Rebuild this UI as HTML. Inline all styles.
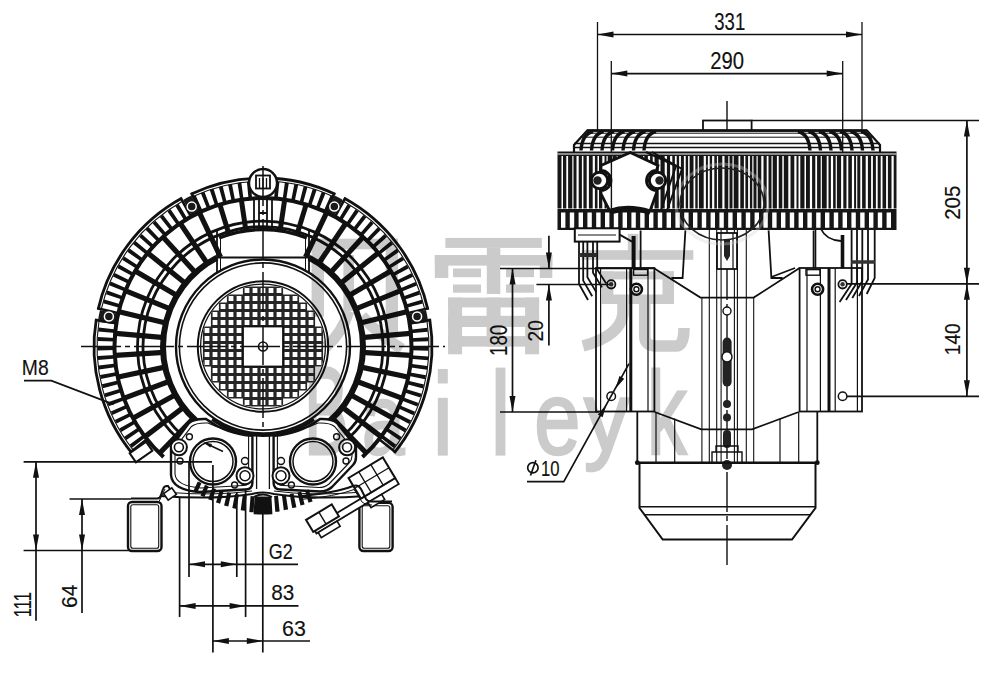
<!DOCTYPE html><html><head><meta charset="utf-8"><style>html,body{margin:0;padding:0;background:#fff;}svg{display:block;font-family:"Liberation Sans",sans-serif;}</style></head><body><svg width="1000" height="675" viewBox="0 0 1000 675"><rect width="1000" height="675" fill="#fff"/><path d="M131.7,452.9 A169,169 0 0 1 96.3,318.9" stroke="#111" stroke-width="2.8" fill="none" />
<path d="M132.9,449.6 A166,166 0 0 1 99,321.1" stroke="#111" stroke-width="1.1" fill="none" />
<line x1="148.1" y1="438.2" x2="130.1" y2="452.6" stroke="#111" stroke-width="2.6" />
<line x1="117.8" y1="323.5" x2="95.1" y2="319.9" stroke="#111" stroke-width="2.6" />
<path d="M98.1,309.6 A169,169 0 0 1 182.1,198.1" stroke="#111" stroke-width="2.8" fill="none" />
<path d="M101.4,308.6 A166,166 0 0 1 182,201.6" stroke="#111" stroke-width="1.1" fill="none" />
<line x1="119.8" y1="313.4" x2="97.4" y2="308.3" stroke="#111" stroke-width="2.6" />
<line x1="191.7" y1="217.9" x2="180.6" y2="197.8" stroke="#111" stroke-width="2.6" />
<path d="M190.7,194.3 A168.5,168.5 0 0 1 335.3,194.3" stroke="#111" stroke-width="2.8" fill="none" />
<path d="M193.6,196.3 A165.5,165.5 0 0 1 332.4,196.3" stroke="#111" stroke-width="1.1" fill="none" />
<line x1="200.9" y1="213.3" x2="191.4" y2="192.9" stroke="#111" stroke-width="2.6" />
<line x1="325.1" y1="213.3" x2="334.6" y2="192.9" stroke="#111" stroke-width="2.6" />
<path d="M343.9,198.1 A169,169 0 0 1 427.9,309.6" stroke="#111" stroke-width="2.8" fill="none" />
<path d="M344,201.6 A166,166 0 0 1 424.6,308.6" stroke="#111" stroke-width="1.1" fill="none" />
<line x1="334.3" y1="217.9" x2="345.4" y2="197.8" stroke="#111" stroke-width="2.6" />
<line x1="406.2" y1="313.4" x2="428.6" y2="308.3" stroke="#111" stroke-width="2.6" />
<path d="M429.7,318.9 A169,169 0 0 1 394.3,452.9" stroke="#111" stroke-width="2.8" fill="none" />
<path d="M427,321.1 A166,166 0 0 1 393.1,449.6" stroke="#111" stroke-width="1.1" fill="none" />
<line x1="408.2" y1="323.5" x2="430.9" y2="319.9" stroke="#111" stroke-width="2.6" />
<line x1="377.9" y1="438.2" x2="395.9" y2="452.6" stroke="#111" stroke-width="2.6" />
<path d="M132,447.7 A165.5,165.5 0 0 1 129.7,444.5 L143.8,434.2 A148,148 0 0 0 145.9,437 Z" fill="#111" stroke="none"/>
<path d="M126.4,440 A165.5,165.5 0 0 1 124.2,436.7 L138.9,427.1 A148,148 0 0 0 140.9,430.1 Z" fill="#111" stroke="none"/>
<path d="M121.3,431.9 A165.5,165.5 0 0 1 119.3,428.5 L134.5,419.9 A148,148 0 0 0 136.2,422.9 Z" fill="#111" stroke="none"/>
<path d="M116.6,423.6 A165.5,165.5 0 0 1 114.8,420.1 L130.5,412.4 A148,148 0 0 0 132.1,415.5 Z" fill="#111" stroke="none"/>
<path d="M112.4,415.1 A165.5,165.5 0 0 1 110.8,411.5 L126.9,404.6 A148,148 0 0 0 128.3,407.8 Z" fill="#111" stroke="none"/>
<path d="M108.7,406.3 A165.5,165.5 0 0 1 107.3,402.6 L123.8,396.7 A148,148 0 0 0 125,400 Z" fill="#111" stroke="none"/>
<path d="M105.5,397.3 A165.5,165.5 0 0 1 104.3,393.6 L121.1,388.6 A148,148 0 0 0 122.1,391.9 Z" fill="#111" stroke="none"/>
<path d="M102.8,388.2 A165.5,165.5 0 0 1 101.9,384.3 L118.9,380.3 A148,148 0 0 0 119.8,383.8 Z" fill="#111" stroke="none"/>
<path d="M100.7,378.9 A165.5,165.5 0 0 1 100,375 L117.2,372 A148,148 0 0 0 117.9,375.4 Z" fill="#111" stroke="none"/>
<path d="M99.1,369.5 A165.5,165.5 0 0 1 98.6,365.6 L116,363.6 A148,148 0 0 0 116.4,367 Z" fill="#111" stroke="none"/>
<path d="M98.1,360 A165.5,165.5 0 0 1 97.8,356.1 L115.2,355.1 A148,148 0 0 0 115.5,358.6 Z" fill="#111" stroke="none"/>
<path d="M97.5,350.5 A165.5,165.5 0 0 1 97.5,346.6 L115,346.6 A148,148 0 0 0 115,350.1 Z" fill="#111" stroke="none"/>
<path d="M97.6,341 A165.5,165.5 0 0 1 97.8,337 L115.2,338 A148,148 0 0 0 115.1,341.5 Z" fill="#111" stroke="none"/>
<path d="M98.2,331.4 A165.5,165.5 0 0 1 98.6,327.5 L116,329.5 A148,148 0 0 0 115.6,333 Z" fill="#111" stroke="none"/>
<path d="M99.3,322 A165.5,165.5 0 0 1 100,318.1 L117.2,321.1 A148,148 0 0 0 116.6,324.6 Z" fill="#111" stroke="none"/>
<path d="M103.2,303.3 A165.5,165.5 0 0 1 104.3,299.6 L121.1,304.5 A148,148 0 0 0 120.1,307.9 Z" fill="#111" stroke="none"/>
<path d="M106,294.2 A165.5,165.5 0 0 1 107.3,290.5 L123.7,296.4 A148,148 0 0 0 122.6,299.7 Z" fill="#111" stroke="none"/>
<path d="M109.2,285.3 A165.5,165.5 0 0 1 110.7,281.6 L126.8,288.5 A148,148 0 0 0 125.5,291.7 Z" fill="#111" stroke="none"/>
<path d="M113,276.5 A165.5,165.5 0 0 1 114.7,273 L130.4,280.7 A148,148 0 0 0 128.9,283.9 Z" fill="#111" stroke="none"/>
<path d="M117.3,268 A165.5,165.5 0 0 1 119.2,264.6 L134.4,273.2 A148,148 0 0 0 132.7,276.3 Z" fill="#111" stroke="none"/>
<path d="M122.1,259.7 A165.5,165.5 0 0 1 124.2,256.4 L138.8,265.9 A148,148 0 0 0 137,268.9 Z" fill="#111" stroke="none"/>
<path d="M127.3,251.8 A165.5,165.5 0 0 1 129.6,248.6 L143.7,258.9 A148,148 0 0 0 141.6,261.8 Z" fill="#111" stroke="none"/>
<path d="M133,244.1 A165.5,165.5 0 0 1 135.4,241.1 L148.9,252.2 A148,148 0 0 0 146.7,254.9 Z" fill="#111" stroke="none"/>
<path d="M139.1,236.8 A165.5,165.5 0 0 1 141.7,233.9 L154.5,245.8 A148,148 0 0 0 152.2,248.4 Z" fill="#111" stroke="none"/>
<path d="M145.6,229.8 A165.5,165.5 0 0 1 148.4,227.1 L160.5,239.7 A148,148 0 0 0 158,242.2 Z" fill="#111" stroke="none"/>
<path d="M152.5,223.3 A165.5,165.5 0 0 1 155.5,220.7 L166.8,234 A148,148 0 0 0 164.2,236.3 Z" fill="#111" stroke="none"/>
<path d="M159.8,217.1 A165.5,165.5 0 0 1 162.9,214.7 L173.5,228.6 A148,148 0 0 0 170.7,230.8 Z" fill="#111" stroke="none"/>
<path d="M167.4,211.4 A165.5,165.5 0 0 1 170.6,209.2 L180.4,223.7 A148,148 0 0 0 177.5,225.7 Z" fill="#111" stroke="none"/>
<path d="M175.3,206.1 A165.5,165.5 0 0 1 178.7,204.1 L187.6,219.1 A148,148 0 0 0 184.6,221 Z" fill="#111" stroke="none"/>
<path d="M192.1,197 A165.5,165.5 0 0 1 195.6,195.3 L202.8,211.3 A148,148 0 0 0 199.6,212.8 Z" fill="#111" stroke="none"/>
<path d="M200.8,193.1 A165.5,165.5 0 0 1 204.4,191.7 L210.6,208.1 A148,148 0 0 0 207.4,209.4 Z" fill="#111" stroke="none"/>
<path d="M209.7,189.8 A165.5,165.5 0 0 1 213.5,188.6 L218.7,205.3 A148,148 0 0 0 215.4,206.4 Z" fill="#111" stroke="none"/>
<path d="M218.8,187 A165.5,165.5 0 0 1 222.6,186 L226.9,203 A148,148 0 0 0 223.5,203.9 Z" fill="#111" stroke="none"/>
<path d="M228.1,184.7 A165.5,165.5 0 0 1 231.9,183.9 L235.2,201.1 A148,148 0 0 0 231.8,201.8 Z" fill="#111" stroke="none"/>
<path d="M237.5,183 A165.5,165.5 0 0 1 241.3,182.4 L243.6,199.8 A148,148 0 0 0 240.2,200.3 Z" fill="#111" stroke="none"/>
<path d="M246.9,181.8 A165.5,165.5 0 0 1 250.8,181.4 L252.1,198.9 A148,148 0 0 0 248.6,199.2 Z" fill="#111" stroke="none"/>
<path d="M256.4,181.1 A165.5,165.5 0 0 1 260.3,181 L260.6,198.5 A148,148 0 0 0 257.1,198.6 Z" fill="#111" stroke="none"/>
<path d="M265.9,181 A165.5,165.5 0 0 1 269.9,181.1 L269.1,198.6 A148,148 0 0 0 265.6,198.5 Z" fill="#111" stroke="none"/>
<path d="M275.5,181.5 A165.5,165.5 0 0 1 279.4,181.8 L277.6,199.2 A148,148 0 0 0 274.1,198.9 Z" fill="#111" stroke="none"/>
<path d="M284.9,182.5 A165.5,165.5 0 0 1 288.8,183 L286.1,200.3 A148,148 0 0 0 282.6,199.8 Z" fill="#111" stroke="none"/>
<path d="M294.4,184 A165.5,165.5 0 0 1 298.2,184.8 L294.5,201.9 A148,148 0 0 0 291,201.2 Z" fill="#111" stroke="none"/>
<path d="M303.7,186.1 A165.5,165.5 0 0 1 307.5,187.1 L302.8,203.9 A148,148 0 0 0 299.4,203 Z" fill="#111" stroke="none"/>
<path d="M312.8,188.7 A165.5,165.5 0 0 1 316.6,189.9 L310.9,206.5 A148,148 0 0 0 307.6,205.4 Z" fill="#111" stroke="none"/>
<path d="M321.8,191.8 A165.5,165.5 0 0 1 325.5,193.2 L318.9,209.5 A148,148 0 0 0 315.6,208.2 Z" fill="#111" stroke="none"/>
<path d="M330.6,195.4 A165.5,165.5 0 0 1 334.2,197.1 L326.7,212.9 A148,148 0 0 0 323.5,211.4 Z" fill="#111" stroke="none"/>
<path d="M347.5,204.2 A165.5,165.5 0 0 1 350.9,206.3 L341.6,221.1 A148,148 0 0 0 338.6,219.3 Z" fill="#111" stroke="none"/>
<path d="M355.6,209.3 A165.5,165.5 0 0 1 358.8,211.6 L348.7,225.8 A148,148 0 0 0 345.8,223.8 Z" fill="#111" stroke="none"/>
<path d="M363.3,214.9 A165.5,165.5 0 0 1 366.4,217.3 L355.5,231 A148,148 0 0 0 352.7,228.8 Z" fill="#111" stroke="none"/>
<path d="M370.7,220.9 A165.5,165.5 0 0 1 373.7,223.5 L362,236.5 A148,148 0 0 0 359.4,234.2 Z" fill="#111" stroke="none"/>
<path d="M377.8,227.3 A165.5,165.5 0 0 1 380.6,230 L368.2,242.4 A148,148 0 0 0 365.7,239.9 Z" fill="#111" stroke="none"/>
<path d="M384.5,234.1 A165.5,165.5 0 0 1 387.1,237 L374,248.6 A148,148 0 0 0 371.6,246 Z" fill="#111" stroke="none"/>
<path d="M390.7,241.3 A165.5,165.5 0 0 1 393.2,244.3 L379.4,255.1 A148,148 0 0 0 377.2,252.4 Z" fill="#111" stroke="none"/>
<path d="M396.6,248.8 A165.5,165.5 0 0 1 398.9,252 L384.5,262 A148,148 0 0 0 382.5,259.1 Z" fill="#111" stroke="none"/>
<path d="M402,256.7 A165.5,165.5 0 0 1 404.1,260 L389.2,269.1 A148,148 0 0 0 387.3,266.2 Z" fill="#111" stroke="none"/>
<path d="M406.9,264.8 A165.5,165.5 0 0 1 408.8,268.2 L393.4,276.5 A148,148 0 0 0 391.7,273.4 Z" fill="#111" stroke="none"/>
<path d="M411.4,273.2 A165.5,165.5 0 0 1 413.1,276.8 L397.2,284.1 A148,148 0 0 0 395.7,281 Z" fill="#111" stroke="none"/>
<path d="M415.4,281.9 A165.5,165.5 0 0 1 416.9,285.5 L400.6,292 A148,148 0 0 0 399.3,288.7 Z" fill="#111" stroke="none"/>
<path d="M418.8,290.8 A165.5,165.5 0 0 1 420.1,294.5 L403.5,300 A148,148 0 0 0 402.4,296.7 Z" fill="#111" stroke="none"/>
<path d="M421.8,299.8 A165.5,165.5 0 0 1 422.8,303.6 L405.9,308.1 A148,148 0 0 0 405,304.8 Z" fill="#111" stroke="none"/>
<path d="M426.1,318.4 A165.5,165.5 0 0 1 426.7,322.3 L409.4,324.8 A148,148 0 0 0 408.8,321.4 Z" fill="#111" stroke="none"/>
<path d="M427.4,327.8 A165.5,165.5 0 0 1 427.8,331.7 L410.4,333.3 A148,148 0 0 0 410.1,329.8 Z" fill="#111" stroke="none"/>
<path d="M428.2,337.3 A165.5,165.5 0 0 1 428.4,341.2 L410.9,341.8 A148,148 0 0 0 410.8,338.3 Z" fill="#111" stroke="none"/>
<path d="M428.5,346.8 A165.5,165.5 0 0 1 428.4,350.8 L411,350.3 A148,148 0 0 0 411,346.8 Z" fill="#111" stroke="none"/>
<path d="M428.2,356.4 A165.5,165.5 0 0 1 427.9,360.3 L410.5,358.8 A148,148 0 0 0 410.7,355.3 Z" fill="#111" stroke="none"/>
<path d="M427.4,365.9 A165.5,165.5 0 0 1 426.9,369.8 L409.5,367.3 A148,148 0 0 0 410,363.8 Z" fill="#111" stroke="none"/>
<path d="M426,375.3 A165.5,165.5 0 0 1 425.2,379.2 L408.1,375.7 A148,148 0 0 0 408.7,372.3 Z" fill="#111" stroke="none"/>
<path d="M424,384.6 A165.5,165.5 0 0 1 423.1,388.4 L406.2,384 A148,148 0 0 0 407,380.6 Z" fill="#111" stroke="none"/>
<path d="M421.6,393.8 A165.5,165.5 0 0 1 420.4,397.6 L403.8,392.2 A148,148 0 0 0 404.8,388.8 Z" fill="#111" stroke="none"/>
<path d="M418.6,402.9 A165.5,165.5 0 0 1 417.2,406.6 L400.9,400.2 A148,148 0 0 0 402.1,396.9 Z" fill="#111" stroke="none"/>
<path d="M415.1,411.8 A165.5,165.5 0 0 1 413.5,415.3 L397.6,408.1 A148,148 0 0 0 399,404.9 Z" fill="#111" stroke="none"/>
<path d="M411.1,420.4 A165.5,165.5 0 0 1 409.3,423.9 L393.8,415.7 A148,148 0 0 0 395.4,412.6 Z" fill="#111" stroke="none"/>
<path d="M406.6,428.8 A165.5,165.5 0 0 1 404.6,432.2 L389.6,423.1 A148,148 0 0 0 391.4,420.1 Z" fill="#111" stroke="none"/>
<path d="M401.6,436.9 A165.5,165.5 0 0 1 399.4,440.2 L385,430.3 A148,148 0 0 0 387,427.4 Z" fill="#111" stroke="none"/>
<path d="M396.2,444.8 A165.5,165.5 0 0 1 393.8,447.9 L380,437.2 A148,148 0 0 0 382.1,434.4 Z" fill="#111" stroke="none"/>
<path d="M98.2,319.2 A167,167 0 0 1 100,310.1 L118.6,314.2 A148,148 0 0 0 117,322.3 Z" fill="#1a1a1a" stroke="none"/>
<circle cx="108.9" cy="316.5" r="4.5" stroke="#fff" stroke-width="1.5" fill="none"/>
<path d="M183.1,199.9 A167,167 0 0 1 191.4,195.6 L199.5,212.8 A148,148 0 0 0 192.2,216.6 Z" fill="#1a1a1a" stroke="none"/>
<circle cx="191.7" cy="206.6" r="4.5" stroke="#fff" stroke-width="1.5" fill="none"/>
<path d="M334.6,195.6 A167,167 0 0 1 342.9,199.9 L333.8,216.6 A148,148 0 0 0 326.5,212.8 Z" fill="#1a1a1a" stroke="none"/>
<circle cx="334.3" cy="206.6" r="4.5" stroke="#fff" stroke-width="1.5" fill="none"/>
<path d="M426,310.1 A167,167 0 0 1 427.8,319.2 L409,322.3 A148,148 0 0 0 407.4,314.2 Z" fill="#1a1a1a" stroke="none"/>
<circle cx="417.1" cy="316.5" r="4.5" stroke="#fff" stroke-width="1.5" fill="none"/>
<path d="M163.6,456.9 A148.5,148.5 0 1 1 362.4,456.9" stroke="#111" stroke-width="4.0" fill="none" />
<path d="M179,439.8 A125.5,125.5 0 1 1 347,439.8" stroke="#111" stroke-width="2.8" fill="none" />
<path d="M182.7,435.7 A120,120 0 1 1 343.3,435.7" stroke="#111" stroke-width="2.8" fill="none" />
<path d="M196.1,420.8 A100,100 0 0 1 217,257.7" stroke="#111" stroke-width="6.0" fill="none" />
<path d="M309,257.7 A100,100 0 0 1 329.9,420.8" stroke="#111" stroke-width="6.0" fill="none" />
<line x1="194.1" y1="417.6" x2="160" y2="452.8" stroke="#111" stroke-width="5.2" />
<line x1="184.4" y1="406.6" x2="145.4" y2="436.4" stroke="#111" stroke-width="5.2" />
<line x1="176.3" y1="394.3" x2="133.4" y2="418" stroke="#111" stroke-width="5.2" />
<line x1="170.2" y1="381" x2="124.3" y2="398.1" stroke="#111" stroke-width="5.2" />
<line x1="166.1" y1="366.9" x2="118.2" y2="377" stroke="#111" stroke-width="5.2" />
<line x1="164.2" y1="352.4" x2="115.3" y2="355.3" stroke="#111" stroke-width="5.2" />
<line x1="164.4" y1="337.7" x2="115.6" y2="333.3" stroke="#111" stroke-width="5.2" />
<line x1="166.8" y1="323.2" x2="119.1" y2="311.7" stroke="#111" stroke-width="5.2" />
<line x1="171.3" y1="309.3" x2="125.9" y2="290.8" stroke="#111" stroke-width="5.2" />
<line x1="177.8" y1="296.1" x2="135.6" y2="271.2" stroke="#111" stroke-width="5.2" />
<line x1="186.2" y1="284.1" x2="148.1" y2="253.2" stroke="#111" stroke-width="5.2" />
<line x1="196.2" y1="273.4" x2="163.2" y2="237.2" stroke="#111" stroke-width="5.2" />
<line x1="207.8" y1="264.3" x2="180.5" y2="223.7" stroke="#111" stroke-width="5.2" />
<line x1="220.5" y1="257.1" x2="199.5" y2="212.8" stroke="#111" stroke-width="5.2" />
<line x1="229" y1="234.6" x2="220" y2="204.9" stroke="#111" stroke-width="5.0" />
<line x1="245.9" y1="230.8" x2="241.4" y2="200.1" stroke="#111" stroke-width="5.0" />
<line x1="280.1" y1="230.8" x2="284.6" y2="200.1" stroke="#111" stroke-width="5.0" />
<line x1="297" y1="234.6" x2="306" y2="204.9" stroke="#111" stroke-width="5.0" />
<line x1="305.5" y1="257.1" x2="326.5" y2="212.8" stroke="#111" stroke-width="5.2" />
<line x1="318.2" y1="264.3" x2="345.5" y2="223.7" stroke="#111" stroke-width="5.2" />
<line x1="329.8" y1="273.4" x2="362.8" y2="237.2" stroke="#111" stroke-width="5.2" />
<line x1="339.8" y1="284.1" x2="377.9" y2="253.2" stroke="#111" stroke-width="5.2" />
<line x1="348.2" y1="296.1" x2="390.4" y2="271.2" stroke="#111" stroke-width="5.2" />
<line x1="354.7" y1="309.3" x2="400.1" y2="290.8" stroke="#111" stroke-width="5.2" />
<line x1="359.2" y1="323.2" x2="406.9" y2="311.7" stroke="#111" stroke-width="5.2" />
<line x1="361.6" y1="337.7" x2="410.4" y2="333.3" stroke="#111" stroke-width="5.2" />
<line x1="361.8" y1="352.4" x2="410.7" y2="355.3" stroke="#111" stroke-width="5.2" />
<line x1="359.9" y1="366.9" x2="407.8" y2="377" stroke="#111" stroke-width="5.2" />
<line x1="355.8" y1="381" x2="401.7" y2="398.1" stroke="#111" stroke-width="5.2" />
<line x1="349.7" y1="394.3" x2="392.6" y2="418" stroke="#111" stroke-width="5.2" />
<line x1="341.6" y1="406.6" x2="380.6" y2="436.4" stroke="#111" stroke-width="5.2" />
<line x1="331.9" y1="417.6" x2="366" y2="452.8" stroke="#111" stroke-width="5.2" />
<path d="M217,272 V231 M309,272 V231 M217,257.5 H309" stroke="#111" stroke-width="1.8" fill="none" />
<path d="M220.5,271 V233 M305.5,271 V233" stroke="#111" stroke-width="1.0" fill="none" />
<path d="M219.2,238 A117,117 0 0 1 306.8,238" stroke="#111" stroke-width="3.4" fill="none" />
<circle cx="263" cy="346.5" r="87" stroke="#111" stroke-width="2.4" fill="none"/>
<circle cx="263" cy="346.5" r="83.6" stroke="#111" stroke-width="1.6" fill="none"/>
<circle cx="263" cy="346.5" r="65.2" stroke="#111" stroke-width="2.0" fill="none"/>
<circle cx="263" cy="346.5" r="62.4" stroke="#111" stroke-width="1.3" fill="none"/>
<clipPath id="gclip"><circle cx="263" cy="346.5" r="61.8"/></clipPath>
<g clip-path="url(#gclip)">
<path d="M202.9,326.4h8.2v8.2h-8.2zM202.9,334.4h8.2v8.2h-8.2zM202.9,342.4h8.2v8.2h-8.2zM202.9,350.4h8.2v8.2h-8.2zM202.9,358.4h8.2v8.2h-8.2zM210.9,310.4h8.2v8.2h-8.2zM210.9,318.4h8.2v8.2h-8.2zM210.9,326.4h8.2v8.2h-8.2zM210.9,334.4h8.2v8.2h-8.2zM210.9,342.4h8.2v8.2h-8.2zM210.9,350.4h8.2v8.2h-8.2zM210.9,358.4h8.2v8.2h-8.2zM210.9,366.4h8.2v8.2h-8.2zM210.9,374.4h8.2v8.2h-8.2zM218.9,302.4h8.2v8.2h-8.2zM218.9,310.4h8.2v8.2h-8.2zM218.9,318.4h8.2v8.2h-8.2zM218.9,326.4h8.2v8.2h-8.2zM218.9,334.4h8.2v8.2h-8.2zM218.9,342.4h8.2v8.2h-8.2zM218.9,350.4h8.2v8.2h-8.2zM218.9,358.4h8.2v8.2h-8.2zM218.9,366.4h8.2v8.2h-8.2zM218.9,374.4h8.2v8.2h-8.2zM218.9,382.4h8.2v8.2h-8.2zM226.9,294.4h8.2v8.2h-8.2zM226.9,302.4h8.2v8.2h-8.2zM226.9,310.4h8.2v8.2h-8.2zM226.9,318.4h8.2v8.2h-8.2zM226.9,326.4h8.2v8.2h-8.2zM226.9,334.4h8.2v8.2h-8.2zM226.9,342.4h8.2v8.2h-8.2zM226.9,350.4h8.2v8.2h-8.2zM226.9,358.4h8.2v8.2h-8.2zM226.9,366.4h8.2v8.2h-8.2zM226.9,374.4h8.2v8.2h-8.2zM226.9,382.4h8.2v8.2h-8.2zM226.9,390.4h8.2v8.2h-8.2zM234.9,294.4h8.2v8.2h-8.2zM234.9,302.4h8.2v8.2h-8.2zM234.9,310.4h8.2v8.2h-8.2zM234.9,318.4h8.2v8.2h-8.2zM234.9,326.4h8.2v8.2h-8.2zM234.9,334.4h8.2v8.2h-8.2zM234.9,342.4h8.2v8.2h-8.2zM234.9,350.4h8.2v8.2h-8.2zM234.9,358.4h8.2v8.2h-8.2zM234.9,366.4h8.2v8.2h-8.2zM234.9,374.4h8.2v8.2h-8.2zM234.9,382.4h8.2v8.2h-8.2zM234.9,390.4h8.2v8.2h-8.2zM242.9,286.4h8.2v8.2h-8.2zM242.9,294.4h8.2v8.2h-8.2zM242.9,302.4h8.2v8.2h-8.2zM242.9,310.4h8.2v8.2h-8.2zM242.9,318.4h8.2v8.2h-8.2zM242.9,326.4h8.2v8.2h-8.2zM242.9,334.4h8.2v8.2h-8.2zM242.9,342.4h8.2v8.2h-8.2zM242.9,350.4h8.2v8.2h-8.2zM242.9,358.4h8.2v8.2h-8.2zM242.9,366.4h8.2v8.2h-8.2zM242.9,374.4h8.2v8.2h-8.2zM242.9,382.4h8.2v8.2h-8.2zM242.9,390.4h8.2v8.2h-8.2zM242.9,398.4h8.2v8.2h-8.2zM250.9,286.4h8.2v8.2h-8.2zM250.9,294.4h8.2v8.2h-8.2zM250.9,302.4h8.2v8.2h-8.2zM250.9,310.4h8.2v8.2h-8.2zM250.9,318.4h8.2v8.2h-8.2zM250.9,326.4h8.2v8.2h-8.2zM250.9,334.4h8.2v8.2h-8.2zM250.9,342.4h8.2v8.2h-8.2zM250.9,350.4h8.2v8.2h-8.2zM250.9,358.4h8.2v8.2h-8.2zM250.9,366.4h8.2v8.2h-8.2zM250.9,374.4h8.2v8.2h-8.2zM250.9,382.4h8.2v8.2h-8.2zM250.9,390.4h8.2v8.2h-8.2zM250.9,398.4h8.2v8.2h-8.2zM258.9,286.4h8.2v8.2h-8.2zM258.9,294.4h8.2v8.2h-8.2zM258.9,302.4h8.2v8.2h-8.2zM258.9,310.4h8.2v8.2h-8.2zM258.9,318.4h8.2v8.2h-8.2zM258.9,326.4h8.2v8.2h-8.2zM258.9,334.4h8.2v8.2h-8.2zM258.9,342.4h8.2v8.2h-8.2zM258.9,350.4h8.2v8.2h-8.2zM258.9,358.4h8.2v8.2h-8.2zM258.9,366.4h8.2v8.2h-8.2zM258.9,374.4h8.2v8.2h-8.2zM258.9,382.4h8.2v8.2h-8.2zM258.9,390.4h8.2v8.2h-8.2zM258.9,398.4h8.2v8.2h-8.2zM266.9,286.4h8.2v8.2h-8.2zM266.9,294.4h8.2v8.2h-8.2zM266.9,302.4h8.2v8.2h-8.2zM266.9,310.4h8.2v8.2h-8.2zM266.9,318.4h8.2v8.2h-8.2zM266.9,326.4h8.2v8.2h-8.2zM266.9,334.4h8.2v8.2h-8.2zM266.9,342.4h8.2v8.2h-8.2zM266.9,350.4h8.2v8.2h-8.2zM266.9,358.4h8.2v8.2h-8.2zM266.9,366.4h8.2v8.2h-8.2zM266.9,374.4h8.2v8.2h-8.2zM266.9,382.4h8.2v8.2h-8.2zM266.9,390.4h8.2v8.2h-8.2zM266.9,398.4h8.2v8.2h-8.2zM274.9,286.4h8.2v8.2h-8.2zM274.9,294.4h8.2v8.2h-8.2zM274.9,302.4h8.2v8.2h-8.2zM274.9,310.4h8.2v8.2h-8.2zM274.9,318.4h8.2v8.2h-8.2zM274.9,326.4h8.2v8.2h-8.2zM274.9,334.4h8.2v8.2h-8.2zM274.9,342.4h8.2v8.2h-8.2zM274.9,350.4h8.2v8.2h-8.2zM274.9,358.4h8.2v8.2h-8.2zM274.9,366.4h8.2v8.2h-8.2zM274.9,374.4h8.2v8.2h-8.2zM274.9,382.4h8.2v8.2h-8.2zM274.9,390.4h8.2v8.2h-8.2zM274.9,398.4h8.2v8.2h-8.2zM282.9,294.4h8.2v8.2h-8.2zM282.9,302.4h8.2v8.2h-8.2zM282.9,310.4h8.2v8.2h-8.2zM282.9,318.4h8.2v8.2h-8.2zM282.9,326.4h8.2v8.2h-8.2zM282.9,334.4h8.2v8.2h-8.2zM282.9,342.4h8.2v8.2h-8.2zM282.9,350.4h8.2v8.2h-8.2zM282.9,358.4h8.2v8.2h-8.2zM282.9,366.4h8.2v8.2h-8.2zM282.9,374.4h8.2v8.2h-8.2zM282.9,382.4h8.2v8.2h-8.2zM282.9,390.4h8.2v8.2h-8.2zM290.9,294.4h8.2v8.2h-8.2zM290.9,302.4h8.2v8.2h-8.2zM290.9,310.4h8.2v8.2h-8.2zM290.9,318.4h8.2v8.2h-8.2zM290.9,326.4h8.2v8.2h-8.2zM290.9,334.4h8.2v8.2h-8.2zM290.9,342.4h8.2v8.2h-8.2zM290.9,350.4h8.2v8.2h-8.2zM290.9,358.4h8.2v8.2h-8.2zM290.9,366.4h8.2v8.2h-8.2zM290.9,374.4h8.2v8.2h-8.2zM290.9,382.4h8.2v8.2h-8.2zM290.9,390.4h8.2v8.2h-8.2zM298.9,302.4h8.2v8.2h-8.2zM298.9,310.4h8.2v8.2h-8.2zM298.9,318.4h8.2v8.2h-8.2zM298.9,326.4h8.2v8.2h-8.2zM298.9,334.4h8.2v8.2h-8.2zM298.9,342.4h8.2v8.2h-8.2zM298.9,350.4h8.2v8.2h-8.2zM298.9,358.4h8.2v8.2h-8.2zM298.9,366.4h8.2v8.2h-8.2zM298.9,374.4h8.2v8.2h-8.2zM298.9,382.4h8.2v8.2h-8.2zM306.9,310.4h8.2v8.2h-8.2zM306.9,318.4h8.2v8.2h-8.2zM306.9,326.4h8.2v8.2h-8.2zM306.9,334.4h8.2v8.2h-8.2zM306.9,342.4h8.2v8.2h-8.2zM306.9,350.4h8.2v8.2h-8.2zM306.9,358.4h8.2v8.2h-8.2zM306.9,366.4h8.2v8.2h-8.2zM306.9,374.4h8.2v8.2h-8.2zM314.9,326.4h8.2v8.2h-8.2zM314.9,334.4h8.2v8.2h-8.2zM314.9,342.4h8.2v8.2h-8.2zM314.9,350.4h8.2v8.2h-8.2zM314.9,358.4h8.2v8.2h-8.2z" fill="#262626" stroke="none"/>
<path d="M204.6,328.1h4.8v4.8h-4.8zM204.6,336.1h4.8v4.8h-4.8zM204.6,344.1h4.8v4.8h-4.8zM204.6,352.1h4.8v4.8h-4.8zM204.6,360.1h4.8v4.8h-4.8zM212.6,312.1h4.8v4.8h-4.8zM212.6,320.1h4.8v4.8h-4.8zM212.6,328.1h4.8v4.8h-4.8zM212.6,336.1h4.8v4.8h-4.8zM212.6,344.1h4.8v4.8h-4.8zM212.6,352.1h4.8v4.8h-4.8zM212.6,360.1h4.8v4.8h-4.8zM212.6,368.1h4.8v4.8h-4.8zM212.6,376.1h4.8v4.8h-4.8zM220.6,304.1h4.8v4.8h-4.8zM220.6,312.1h4.8v4.8h-4.8zM220.6,320.1h4.8v4.8h-4.8zM220.6,328.1h4.8v4.8h-4.8zM220.6,336.1h4.8v4.8h-4.8zM220.6,344.1h4.8v4.8h-4.8zM220.6,352.1h4.8v4.8h-4.8zM220.6,360.1h4.8v4.8h-4.8zM220.6,368.1h4.8v4.8h-4.8zM220.6,376.1h4.8v4.8h-4.8zM220.6,384.1h4.8v4.8h-4.8zM228.6,296.1h4.8v4.8h-4.8zM228.6,304.1h4.8v4.8h-4.8zM228.6,312.1h4.8v4.8h-4.8zM228.6,320.1h4.8v4.8h-4.8zM228.6,328.1h4.8v4.8h-4.8zM228.6,336.1h4.8v4.8h-4.8zM228.6,344.1h4.8v4.8h-4.8zM228.6,352.1h4.8v4.8h-4.8zM228.6,360.1h4.8v4.8h-4.8zM228.6,368.1h4.8v4.8h-4.8zM228.6,376.1h4.8v4.8h-4.8zM228.6,384.1h4.8v4.8h-4.8zM228.6,392.1h4.8v4.8h-4.8zM236.6,296.1h4.8v4.8h-4.8zM236.6,304.1h4.8v4.8h-4.8zM236.6,312.1h4.8v4.8h-4.8zM236.6,320.1h4.8v4.8h-4.8zM236.6,328.1h4.8v4.8h-4.8zM236.6,336.1h4.8v4.8h-4.8zM236.6,344.1h4.8v4.8h-4.8zM236.6,352.1h4.8v4.8h-4.8zM236.6,360.1h4.8v4.8h-4.8zM236.6,368.1h4.8v4.8h-4.8zM236.6,376.1h4.8v4.8h-4.8zM236.6,384.1h4.8v4.8h-4.8zM236.6,392.1h4.8v4.8h-4.8zM244.6,288.1h4.8v4.8h-4.8zM244.6,296.1h4.8v4.8h-4.8zM244.6,304.1h4.8v4.8h-4.8zM244.6,312.1h4.8v4.8h-4.8zM244.6,320.1h4.8v4.8h-4.8zM244.6,328.1h4.8v4.8h-4.8zM244.6,336.1h4.8v4.8h-4.8zM244.6,344.1h4.8v4.8h-4.8zM244.6,352.1h4.8v4.8h-4.8zM244.6,360.1h4.8v4.8h-4.8zM244.6,368.1h4.8v4.8h-4.8zM244.6,376.1h4.8v4.8h-4.8zM244.6,384.1h4.8v4.8h-4.8zM244.6,392.1h4.8v4.8h-4.8zM244.6,400.1h4.8v4.8h-4.8zM252.6,288.1h4.8v4.8h-4.8zM252.6,296.1h4.8v4.8h-4.8zM252.6,304.1h4.8v4.8h-4.8zM252.6,312.1h4.8v4.8h-4.8zM252.6,320.1h4.8v4.8h-4.8zM252.6,328.1h4.8v4.8h-4.8zM252.6,336.1h4.8v4.8h-4.8zM252.6,344.1h4.8v4.8h-4.8zM252.6,352.1h4.8v4.8h-4.8zM252.6,360.1h4.8v4.8h-4.8zM252.6,368.1h4.8v4.8h-4.8zM252.6,376.1h4.8v4.8h-4.8zM252.6,384.1h4.8v4.8h-4.8zM252.6,392.1h4.8v4.8h-4.8zM252.6,400.1h4.8v4.8h-4.8zM260.6,288.1h4.8v4.8h-4.8zM260.6,296.1h4.8v4.8h-4.8zM260.6,304.1h4.8v4.8h-4.8zM260.6,312.1h4.8v4.8h-4.8zM260.6,320.1h4.8v4.8h-4.8zM260.6,328.1h4.8v4.8h-4.8zM260.6,336.1h4.8v4.8h-4.8zM260.6,344.1h4.8v4.8h-4.8zM260.6,352.1h4.8v4.8h-4.8zM260.6,360.1h4.8v4.8h-4.8zM260.6,368.1h4.8v4.8h-4.8zM260.6,376.1h4.8v4.8h-4.8zM260.6,384.1h4.8v4.8h-4.8zM260.6,392.1h4.8v4.8h-4.8zM260.6,400.1h4.8v4.8h-4.8zM268.6,288.1h4.8v4.8h-4.8zM268.6,296.1h4.8v4.8h-4.8zM268.6,304.1h4.8v4.8h-4.8zM268.6,312.1h4.8v4.8h-4.8zM268.6,320.1h4.8v4.8h-4.8zM268.6,328.1h4.8v4.8h-4.8zM268.6,336.1h4.8v4.8h-4.8zM268.6,344.1h4.8v4.8h-4.8zM268.6,352.1h4.8v4.8h-4.8zM268.6,360.1h4.8v4.8h-4.8zM268.6,368.1h4.8v4.8h-4.8zM268.6,376.1h4.8v4.8h-4.8zM268.6,384.1h4.8v4.8h-4.8zM268.6,392.1h4.8v4.8h-4.8zM268.6,400.1h4.8v4.8h-4.8zM276.6,288.1h4.8v4.8h-4.8zM276.6,296.1h4.8v4.8h-4.8zM276.6,304.1h4.8v4.8h-4.8zM276.6,312.1h4.8v4.8h-4.8zM276.6,320.1h4.8v4.8h-4.8zM276.6,328.1h4.8v4.8h-4.8zM276.6,336.1h4.8v4.8h-4.8zM276.6,344.1h4.8v4.8h-4.8zM276.6,352.1h4.8v4.8h-4.8zM276.6,360.1h4.8v4.8h-4.8zM276.6,368.1h4.8v4.8h-4.8zM276.6,376.1h4.8v4.8h-4.8zM276.6,384.1h4.8v4.8h-4.8zM276.6,392.1h4.8v4.8h-4.8zM276.6,400.1h4.8v4.8h-4.8zM284.6,296.1h4.8v4.8h-4.8zM284.6,304.1h4.8v4.8h-4.8zM284.6,312.1h4.8v4.8h-4.8zM284.6,320.1h4.8v4.8h-4.8zM284.6,328.1h4.8v4.8h-4.8zM284.6,336.1h4.8v4.8h-4.8zM284.6,344.1h4.8v4.8h-4.8zM284.6,352.1h4.8v4.8h-4.8zM284.6,360.1h4.8v4.8h-4.8zM284.6,368.1h4.8v4.8h-4.8zM284.6,376.1h4.8v4.8h-4.8zM284.6,384.1h4.8v4.8h-4.8zM284.6,392.1h4.8v4.8h-4.8zM292.6,296.1h4.8v4.8h-4.8zM292.6,304.1h4.8v4.8h-4.8zM292.6,312.1h4.8v4.8h-4.8zM292.6,320.1h4.8v4.8h-4.8zM292.6,328.1h4.8v4.8h-4.8zM292.6,336.1h4.8v4.8h-4.8zM292.6,344.1h4.8v4.8h-4.8zM292.6,352.1h4.8v4.8h-4.8zM292.6,360.1h4.8v4.8h-4.8zM292.6,368.1h4.8v4.8h-4.8zM292.6,376.1h4.8v4.8h-4.8zM292.6,384.1h4.8v4.8h-4.8zM292.6,392.1h4.8v4.8h-4.8zM300.6,304.1h4.8v4.8h-4.8zM300.6,312.1h4.8v4.8h-4.8zM300.6,320.1h4.8v4.8h-4.8zM300.6,328.1h4.8v4.8h-4.8zM300.6,336.1h4.8v4.8h-4.8zM300.6,344.1h4.8v4.8h-4.8zM300.6,352.1h4.8v4.8h-4.8zM300.6,360.1h4.8v4.8h-4.8zM300.6,368.1h4.8v4.8h-4.8zM300.6,376.1h4.8v4.8h-4.8zM300.6,384.1h4.8v4.8h-4.8zM308.6,312.1h4.8v4.8h-4.8zM308.6,320.1h4.8v4.8h-4.8zM308.6,328.1h4.8v4.8h-4.8zM308.6,336.1h4.8v4.8h-4.8zM308.6,344.1h4.8v4.8h-4.8zM308.6,352.1h4.8v4.8h-4.8zM308.6,360.1h4.8v4.8h-4.8zM308.6,368.1h4.8v4.8h-4.8zM308.6,376.1h4.8v4.8h-4.8zM316.6,328.1h4.8v4.8h-4.8zM316.6,336.1h4.8v4.8h-4.8zM316.6,344.1h4.8v4.8h-4.8zM316.6,352.1h4.8v4.8h-4.8zM316.6,360.1h4.8v4.8h-4.8z" fill="#fff" stroke="none"/>
</g>
<rect x="243" y="326.5" width="40" height="40" rx="0" stroke="#111" stroke-width="1.8" fill="#fff" />
<circle cx="263" cy="346.5" r="4.5" stroke="#111" stroke-width="1.6" fill="none"/>
<circle cx="263" cy="183" r="14" stroke="#111" stroke-width="2.4" fill="#fff"/>
<rect x="256" y="175.5" width="14" height="13" rx="0" stroke="#111" stroke-width="1.8" fill="#fff" />
<path d="M259.5,178 V188 M263,178 V188 M266.5,178 V188" stroke="#111" stroke-width="1.3" fill="none" />
<path d="M254,198 V229 M259,198 V229 M267,198 V229 M272,198 V229 M259,213 H267" stroke="#111" stroke-width="1.8" fill="none" />
<line x1="81" y1="346.5" x2="445" y2="346.5" stroke="#111" stroke-width="1.5" stroke-dasharray="40,4,5,4"/>
<line x1="263" y1="166" x2="263" y2="430" stroke="#111" stroke-width="1.5" stroke-dasharray="40,4,5,4"/>
<path d="M206,419 A90,90 0 0 0 252.4,435.9 V483 Q252.4,489.5 245,489.5 L200,492 Q172,490 171,475 V447 L189,423 Q194,418.5 206,419 Z M320,419 A90,90 0 0 1 273.6,435.9 V483 Q273.6,489.5 281,489.5 L320,491.5 Q327,491.5 332,487 L353,465 Q356,462 356,457 V447 L337,423 Q332,418.5 320,419 Z" stroke="#111" stroke-width="2.4" fill="#fff" />
<path d="M208,423 A86,86 0 0 0 248.6,432 V481 Q248.6,485.5 243,485.5 L201,488 Q176,486 175,474 V448 L191.5,426.5 Q196,422.5 208,423 M318,423 A86,86 0 0 1 277.4,432 V481 Q277.4,485.5 283,485.5 L319,487.5 Q325,487.5 329,484 L349,463 Q352,460 352,456 V448 L334.5,426.5 Q330,422.5 318,423" stroke="#111" stroke-width="1.1" fill="none" />
<path d="M314,419.4 A89,89 0 0 1 212,419.4" stroke="#111" stroke-width="3.0" fill="none" />
<path d="M256.6,434 V489 M269.4,434 V489" stroke="#111" stroke-width="1.3" fill="none" />
<circle cx="213" cy="461.5" r="23" stroke="#111" stroke-width="2.4" fill="#fff"/>
<circle cx="213" cy="461.5" r="20" stroke="#111" stroke-width="1.5" fill="none"/>
<circle cx="313" cy="461.5" r="23" stroke="#111" stroke-width="2.4" fill="#fff"/>
<circle cx="313" cy="461.5" r="20" stroke="#111" stroke-width="1.5" fill="none"/>
<path d="M223,451.5 L205,443" stroke="#111" stroke-width="1.4" fill="none" />
<path d="M203,442 L212,444 L210.3,447.6 Z" fill="#111" stroke="none"/>
<circle cx="178.9" cy="447.3" r="8" stroke="#111" stroke-width="2.0" fill="#fff"/>
<circle cx="178.9" cy="447.3" r="4.5" stroke="#111" stroke-width="1.6" fill="none"/>
<circle cx="189.4" cy="436.8" r="3" stroke="#111" stroke-width="1.4" fill="none"/>
<circle cx="180" cy="461" r="3" stroke="#111" stroke-width="1.4" fill="none"/>
<circle cx="245" cy="475.7" r="8.5" stroke="#111" stroke-width="2.0" fill="#fff"/>
<circle cx="245" cy="475.7" r="5" stroke="#111" stroke-width="1.5" fill="none"/>
<circle cx="245" cy="461" r="3.5" stroke="#111" stroke-width="1.4" fill="none"/>
<circle cx="234.6" cy="485" r="3" stroke="#111" stroke-width="1.4" fill="none"/>
<circle cx="347.1" cy="447.3" r="8" stroke="#111" stroke-width="2.0" fill="#fff"/>
<circle cx="347.1" cy="447.3" r="4.5" stroke="#111" stroke-width="1.6" fill="none"/>
<circle cx="336.6" cy="436.8" r="3" stroke="#111" stroke-width="1.4" fill="none"/>
<circle cx="346" cy="461" r="3" stroke="#111" stroke-width="1.4" fill="none"/>
<circle cx="281" cy="475.7" r="8.5" stroke="#111" stroke-width="2.0" fill="#fff"/>
<circle cx="281" cy="475.7" r="5" stroke="#111" stroke-width="1.5" fill="none"/>
<circle cx="281" cy="461" r="3.5" stroke="#111" stroke-width="1.4" fill="none"/>
<circle cx="291.4" cy="485" r="3" stroke="#111" stroke-width="1.4" fill="none"/>
<path d="M160,496 Q215,500 252,494 Q263,491 274,494 Q311,500 366,496" stroke="#111" stroke-width="2.0" fill="none" />
<path d="M170,492.5 Q215,496 252,491 M274,491 Q311,496 356,492.5" stroke="#111" stroke-width="1.0" fill="none" />
<path d="M312.6,501.5 A162.75,162.75 0 0 1 308.5,502.7 L305,490.5 A150,150 0 0 0 308.7,489.4 Z" fill="#111" stroke="none"/>
<path d="M304.6,504.6 A163.5,163.5 0 0 1 300.5,505.6 L297.4,492.5 A150,150 0 0 0 301.2,491.6 Z" fill="#111" stroke="none"/>
<path d="M296.4,507.3 A164.25,164.25 0 0 1 292.2,508.1 L289.7,494.1 A150,150 0 0 0 293.5,493.4 Z" fill="#111" stroke="none"/>
<path d="M288.1,509.6 A165.0,165.0 0 0 1 283.8,510.2 L281.9,495.3 A150,150 0 0 0 285.8,494.8 Z" fill="#111" stroke="none"/>
<path d="M279.6,511.4 A165.75,165.75 0 0 1 275.3,511.8 L274.1,496.1 A150,150 0 0 0 278,495.7 Z" fill="#111" stroke="none"/>
<path d="M253.6,512.2 A166.0,166.0 0 0 1 249.3,511.9 L250.6,496 A150,150 0 0 0 254.5,496.3 Z" fill="#111" stroke="none"/>
<path d="M245,510.8 A165.25,165.25 0 0 1 240.7,510.2 L242.8,495.1 A150,150 0 0 0 246.7,495.6 Z" fill="#111" stroke="none"/>
<path d="M236.6,508.9 A164.5,164.5 0 0 1 232.3,508.1 L235,493.9 A150,150 0 0 0 238.9,494.5 Z" fill="#111" stroke="none"/>
<path d="M228.3,506.5 A163.75,163.75 0 0 1 224.1,505.6 L227.3,492.2 A150,150 0 0 0 231.2,493.1 Z" fill="#111" stroke="none"/>
<path d="M220.1,503.8 A163.0,163.0 0 0 1 216,502.6 L219.8,490.1 A150,150 0 0 0 223.5,491.2 Z" fill="#111" stroke="none"/>
<path d="M212.2,500.6 A162.25,162.25 0 0 1 208.2,499.2 L212.3,487.7 A150,150 0 0 0 216,489 Z" fill="#111" stroke="none"/>
<path d="M204.5,497 A161.5,161.5 0 0 1 200.5,495.4 L205,484.8 A150,150 0 0 0 208.6,486.3 Z" fill="#111" stroke="none"/>
<path d="M197,493.1 A160.75,160.75 0 0 1 193.2,491.3 L197.8,481.6 A150,150 0 0 0 201.4,483.3 Z" fill="#111" stroke="none"/>
<path d="M272.4,514.2 A168,168 0 0 1 253.6,514.2 L254.6,496.3 A150,150 0 0 0 271.4,496.3 Z" fill="#111" stroke="none"/>
<path d="M254,497 Q263,492 272,497" stroke="#111" stroke-width="2.0" fill="none" />
<rect x="128" y="502" width="33.5" height="49" rx="4" stroke="#111" stroke-width="2.4" fill="#fff" />
<rect x="130.8" y="504.8" width="27.9" height="43.4" rx="2" stroke="#111" stroke-width="1.1" fill="none" />
<rect x="359.4" y="502.9" width="33.2" height="48.1" rx="4" stroke="#111" stroke-width="2.4" fill="#fff" />
<rect x="362.2" y="505.7" width="27.6" height="42.5" rx="2" stroke="#111" stroke-width="1.1" fill="none" />
<path d="M131,498.5 H157 Q160,498.5 161,495 L163,489 Q164,485.5 168,486 L175,497" stroke="#111" stroke-width="2.0" fill="none" />
<path d="M131,501.5 H159 L165,489" stroke="#111" stroke-width="1.0" fill="none" />
<g transform="translate(353,501) rotate(-31)">
<rect x="-48" y="2" width="96" height="7" rx="0" stroke="#111" stroke-width="1.8" fill="#fff" />
<rect x="-50" y="-8" width="30" height="14" rx="0" stroke="#111" stroke-width="2.0" fill="#fff" />
<path d="M-35,-8 V6" stroke="#111" stroke-width="1.4" fill="none" />
<rect x="-46" y="9" width="22" height="6" rx="0" stroke="#111" stroke-width="1.6" fill="#fff" />
<rect x="8" y="-22" width="40" height="24" rx="0" stroke="#111" stroke-width="2.0" fill="#fff" />
<path d="M20,-22 V2 M34,-22 V2 M8,-10 H48" stroke="#111" stroke-width="1.3" fill="none" />
<rect x="12" y="9" width="16" height="6" rx="0" stroke="#111" stroke-width="1.6" fill="#fff" />
</g>
<path d="M300,496 Q335,493 353,486 Q358,484 361,489 L366,499 Q368,502 372,501.5 H392" stroke="#111" stroke-width="2.0" fill="none" />
<path d="M300,499.5 Q336,496.5 354,489.5 L362,502 Q365,505.5 372,505" stroke="#111" stroke-width="1.0" fill="none" />
<g transform="translate(141,452) rotate(-35)">
<rect x="-10" y="-5.5" width="20" height="11" rx="0" stroke="#111" stroke-width="2.0" fill="#fff" />
</g>
<g transform="translate(170,494) rotate(-35)">
<rect x="-5" y="-4" width="10" height="8" rx="0" stroke="#111" stroke-width="1.6" fill="#fff" />
</g>
<rect x="703" y="120.5" width="48.6" height="10.5" rx="0" stroke="#111" stroke-width="1.8" fill="#fff" />
<line x1="727" y1="101" x2="727" y2="565" stroke="#111" stroke-width="1.4" stroke-dasharray="40,4,5,4"/>
<path d="M574,152 V145 L587.2,130.6 H867 L880,145 V152" stroke="#111" stroke-width="2.2" fill="#fff" />
<line x1="574" y1="143.5" x2="880" y2="143.5" stroke="#111" stroke-width="1.4" />
<line x1="585" y1="133.2" x2="869" y2="133.2" stroke="#111" stroke-width="1.0" />
<line x1="580" y1="137.2" x2="874" y2="137.2" stroke="#111" stroke-width="1.0" />
<line x1="574" y1="147.5" x2="880" y2="147.5" stroke="#111" stroke-width="1.6" />
<path d="M581,150.5 Q582,134 593,131.5" stroke="#111" stroke-width="3.4" fill="none" />
<path d="M873,150.5 Q872,134 861,131.5" stroke="#111" stroke-width="3.4" fill="none" />
<path d="M591.5,150.5 Q592.5,134 603.5,131.5" stroke="#111" stroke-width="3.4" fill="none" />
<path d="M862.5,150.5 Q861.5,134 850.5,131.5" stroke="#111" stroke-width="3.4" fill="none" />
<path d="M602,150.5 Q603,134 614,131.5" stroke="#111" stroke-width="3.4" fill="none" />
<path d="M852,150.5 Q851,134 840,131.5" stroke="#111" stroke-width="3.4" fill="none" />
<path d="M612.5,150.5 Q613.5,134 624.5,131.5" stroke="#111" stroke-width="3.4" fill="none" />
<path d="M841.5,150.5 Q840.5,134 829.5,131.5" stroke="#111" stroke-width="3.4" fill="none" />
<path d="M623,150.5 Q624,134 635,131.5" stroke="#111" stroke-width="3.4" fill="none" />
<path d="M831,150.5 Q830,134 819,131.5" stroke="#111" stroke-width="3.4" fill="none" />
<path d="M633.5,150.5 Q634.5,134 645.5,131.5" stroke="#111" stroke-width="3.4" fill="none" />
<path d="M820.5,150.5 Q819.5,134 808.5,131.5" stroke="#111" stroke-width="3.4" fill="none" />
<path d="M644,150.5 Q645,134 656,131.5" stroke="#111" stroke-width="3.4" fill="none" />
<path d="M810,150.5 Q809,134 798,131.5" stroke="#111" stroke-width="3.4" fill="none" />
<line x1="587" y1="130.5" x2="867" y2="130.5" stroke="#111" stroke-width="2.6" />
<rect x="557.5" y="151.5" width="339" height="57" rx="0" stroke="#111" stroke-width="0" fill="#161616" />
<path d="M561.5,156h1.5v53h-1.5zM566.3,156h1.8v53h-1.8zM572.3,156h1.2v53h-1.2zM576.5,156h2.2v53h-2.2zM581.9,156h1.5v53h-1.5zM586.7,156h2.2v53h-2.2zM592.7,156h2.2v53h-2.2zM597.5,156h1.5v53h-1.5zM602.3,156h2.2v53h-2.2zM606.5,156h1.2v53h-1.2zM611.3,156h1.2v53h-1.2zM616.7,156h1.2v53h-1.2zM622.1,156h2.2v53h-2.2zM628.1,156h2.2v53h-2.2zM634.1,156h2.2v53h-2.2zM638.9,156h1.8v53h-1.8zM643.1,156h1.2v53h-1.2zM647.9,156h2.2v53h-2.2zM652.7,156h1.8v53h-1.8zM658.7,156h1.8v53h-1.8zM664.7,156h2.2v53h-2.2zM670.1,156h2.2v53h-2.2zM674.9,156h1.8v53h-1.8zM679.1,156h1.8v53h-1.8zM683.9,156h1.8v53h-1.8zM688.1,156h1.5v53h-1.5zM693.5,156h1.8v53h-1.8zM697.7,156h1.2v53h-1.2zM703.7,156h2.2v53h-2.2zM707.9,156h1.8v53h-1.8zM712.1,156h2.2v53h-2.2zM716.9,156h1.2v53h-1.2zM722.3,156h2.2v53h-2.2zM728.3,156h1.2v53h-1.2zM732.5,156h1.2v53h-1.2zM738.5,156h1.8v53h-1.8zM743.9,156h1.5v53h-1.5zM748.1,156h1.8v53h-1.8zM752.3,156h1.2v53h-1.2zM756.5,156h1.2v53h-1.2zM761.3,156h2.2v53h-2.2zM766.7,156h1.8v53h-1.8zM771.5,156h1.2v53h-1.2zM776.9,156h1.8v53h-1.8zM782.3,156h1.5v53h-1.5zM788.3,156h2.2v53h-2.2zM794.3,156h2.2v53h-2.2zM798.5,156h1.8v53h-1.8zM804.5,156h1.5v53h-1.5zM809.9,156h2.2v53h-2.2zM815.3,156h1.8v53h-1.8zM820.7,156h1.2v53h-1.2zM826.7,156h1.8v53h-1.8zM830.9,156h2.2v53h-2.2zM835.7,156h1.2v53h-1.2zM841.1,156h2.2v53h-2.2zM846.5,156h1.8v53h-1.8zM851.9,156h2.2v53h-2.2zM856.1,156h1.2v53h-1.2zM860.3,156h1.8v53h-1.8zM865.7,156h2.2v53h-2.2zM871.1,156h1.8v53h-1.8zM875.9,156h1.8v53h-1.8zM880.7,156h1.8v53h-1.8zM886.1,156h1.8v53h-1.8zM891.5,156h2.2v53h-2.2z" fill="#fff" stroke="none"/>
<line x1="557.5" y1="154" x2="896.5" y2="154" stroke="#fff" stroke-width="1.0" />
<path d="M630.3,152.5 L601,165.5 V170.5 A10,10 0 0 1 601,190.5 V194 L609.5,210.5 Q628,205 650,211 L656.5,193 V190.5 A10,10 0 0 1 656.5,170.5 L658,165.5 Z" stroke="#111" stroke-width="2.8" fill="#fff" />
<path d="M646,152 L676,166 L660,213 M652,152 L682,169 L666,213" stroke="#111" stroke-width="2.0" fill="none" />
<path d="M611.4,156 V209" stroke="#111" stroke-width="1.4" fill="none" />
<circle cx="599.5" cy="180.5" r="8.2" stroke="#111" stroke-width="3.0" fill="#fff"/>
<circle cx="657.5" cy="180.5" r="8.2" stroke="#111" stroke-width="3.0" fill="#fff"/>
<circle cx="597.5" cy="180.5" r="4.2" stroke="#111" stroke-width="0" fill="#222"/>
<circle cx="659.5" cy="180.5" r="4.2" stroke="#111" stroke-width="0" fill="#222"/>
<path d="M609.5,210.5 Q628,204 650,211" stroke="#111" stroke-width="3.4" fill="none" />
<rect x="557.5" y="209" width="339" height="21" rx="0" stroke="#111" stroke-width="0" fill="#161616" />
<path d="M561,212.5h4.4v15.3h-4.4zM569.8,212.5h4.4v15.3h-4.4zM578.6,212.5h4.4v15.3h-4.4zM587.4,212.5h4.4v15.3h-4.4zM596.2,212.5h4.4v15.3h-4.4zM605,212.5h4.4v15.3h-4.4zM613.8,212.5h4.4v15.3h-4.4zM622.6,212.5h4.4v15.3h-4.4zM631.4,212.5h4.4v15.3h-4.4zM640.2,212.5h4.4v15.3h-4.4zM649,212.5h4.4v15.3h-4.4zM657.8,212.5h4.4v15.3h-4.4zM666.6,212.5h4.4v15.3h-4.4zM675.4,212.5h4.4v15.3h-4.4zM684.2,212.5h4.4v15.3h-4.4zM693,212.5h4.4v15.3h-4.4zM701.8,212.5h4.4v15.3h-4.4zM710.6,212.5h4.4v15.3h-4.4zM719.4,212.5h4.4v15.3h-4.4zM728.2,212.5h4.4v15.3h-4.4zM737,212.5h4.4v15.3h-4.4zM745.8,212.5h4.4v15.3h-4.4zM754.6,212.5h4.4v15.3h-4.4zM763.4,212.5h4.4v15.3h-4.4zM772.2,212.5h4.4v15.3h-4.4zM781,212.5h4.4v15.3h-4.4zM789.8,212.5h4.4v15.3h-4.4zM798.6,212.5h4.4v15.3h-4.4zM807.4,212.5h4.4v15.3h-4.4zM816.2,212.5h4.4v15.3h-4.4zM825,212.5h4.4v15.3h-4.4zM833.8,212.5h4.4v15.3h-4.4zM842.6,212.5h4.4v15.3h-4.4zM851.4,212.5h4.4v15.3h-4.4zM860.2,212.5h4.4v15.3h-4.4zM869,212.5h4.4v15.3h-4.4zM877.8,212.5h4.4v15.3h-4.4zM886.6,212.5h4.4v15.3h-4.4z" fill="#fff" stroke="none"/>
<path d="M610,213 Q630,207 650,213" stroke="#111" stroke-width="3.0" fill="none" />
<rect x="574.8" y="228.3" width="44.8" height="13.3" rx="0" stroke="#111" stroke-width="2.0" fill="#fff" />
<line x1="578" y1="235" x2="616" y2="235" stroke="#111" stroke-width="1.0" />
<path d="M579,241.6 V284 L588,300 M583.2,241.6 V280.6 L592.2,296.2 M587.4,241.6 V277.3 L596.4,292.4 M593,241.6 V272.8 L602,287.4 M597.2,241.6 V269.4 L606.2,283.6 " stroke="#111" stroke-width="1.8" fill="none" />
<path d="M579,255 H597.2" stroke="#333" stroke-width="4.0" fill="none" />
<line x1="633.6" y1="236" x2="633.6" y2="268.2" stroke="#111" stroke-width="4.0" />
<path d="M619.6,234.6 L632,241.6 M640.6,230.4 V268.2 M685.4,230.4 L682.6,278 H671.4" stroke="#111" stroke-width="1.8" fill="none" />
<rect x="633.6" y="269.6" width="14" height="5.6" rx="0" stroke="#111" stroke-width="1.4" fill="#fff" />
<path d="M851.6,230 V284 L839.6,302 M857,230 V282.5 L846,300 M862.3,230 V281 L852.3,298 M868,230 V279.5 L859,296 M874.7,230 V278 L866.7,294 " stroke="#111" stroke-width="1.8" fill="none" />
<path d="M851,262 H875" stroke="#333" stroke-width="3.5" fill="none" />
<line x1="842.5" y1="235" x2="842.5" y2="268.4" stroke="#111" stroke-width="3.6" />
<line x1="815.5" y1="230" x2="815.5" y2="268.4" stroke="#111" stroke-width="1.6" />
<path d="M821,229 Q826,240 841,241 M813.6,230.4 V268.2 M768.6,230.4 L771.4,278 H782.6 M771.4,277 L795,268" stroke="#111" stroke-width="1.8" fill="none" />
<rect x="806" y="269.6" width="14" height="5.6" rx="0" stroke="#111" stroke-width="1.4" fill="#fff" />
<rect x="596" y="268" width="58.4" height="143.5" rx="0" stroke="#111" stroke-width="1.8" fill="none" />
<rect x="799.6" y="268" width="62.4" height="143.5" rx="0" stroke="#111" stroke-width="1.8" fill="none" />
<path d="M600.6,268 V411.5 M626.6,268 V411.5 M648,268 V411.5" stroke="#111" stroke-width="1.2" fill="none" />
<path d="M630.8,268 V411.5" stroke="#111" stroke-width="3.0" fill="none" />
<path d="M807,268 V411.5 M820.4,268 V411.5 M835.2,268 V411.5 M857.4,268 V411.5" stroke="#111" stroke-width="1.2" fill="none" />
<path d="M829,268 V411.5" stroke="#111" stroke-width="3.0" fill="none" />
<path d="M654.4,268.5 L700.4,297.6 H753.7 L799.6,268" stroke="#111" stroke-width="1.8" fill="none" />
<path d="M654.7,412 L701.3,429.3 H752 L798.7,412" stroke="#111" stroke-width="1.8" fill="none" />
<line x1="701.9" y1="297.6" x2="701.9" y2="462.7" stroke="#111" stroke-width="1.1" />
<line x1="709.3" y1="230" x2="709.3" y2="462.7" stroke="#111" stroke-width="1.1" />
<line x1="716.7" y1="230" x2="716.7" y2="462.7" stroke="#111" stroke-width="1.1" />
<line x1="721.1" y1="230" x2="721.1" y2="462.7" stroke="#111" stroke-width="1.1" />
<line x1="734.4" y1="230" x2="734.4" y2="462.7" stroke="#111" stroke-width="1.1" />
<line x1="737.4" y1="230" x2="737.4" y2="462.7" stroke="#111" stroke-width="1.1" />
<line x1="746.3" y1="230" x2="746.3" y2="462.7" stroke="#111" stroke-width="1.1" />
<line x1="753.7" y1="297.6" x2="753.7" y2="462.7" stroke="#111" stroke-width="1.1" />
<rect x="717" y="233" width="20" height="36" rx="0" stroke="#111" stroke-width="1.8" fill="#fff" />
<path d="M721,233 V269 M733,233 V269" stroke="#111" stroke-width="1.2" fill="none" />
<path d="M724,240 H730 V256 L727,261 L724,256 Z" stroke="#111" stroke-width="0" fill="#222" />
<circle cx="727" cy="311" r="4" stroke="#111" stroke-width="1.4" fill="#fff"/>
<rect x="722.6" y="337.6" width="9" height="49" rx="4.5" stroke="#111" stroke-width="0" fill="#222" />
<circle cx="727" cy="356.9" r="5" stroke="#111" stroke-width="1.4" fill="#fff"/>
<circle cx="727" cy="404" r="4" stroke="#111" stroke-width="0" fill="#222"/>
<circle cx="727" cy="417.6" r="4" stroke="#111" stroke-width="0" fill="#222"/>
<rect x="723" y="430" width="8" height="18" rx="4" stroke="#111" stroke-width="0" fill="#222" />
<path d="M712,462 V452 H742 V462 M716,452 V446 H738 V452" stroke="#111" stroke-width="1.4" fill="none" />
<circle cx="727" cy="465" r="5" stroke="#111" stroke-width="0" fill="#222"/>
<circle cx="611.2" cy="284.3" r="4.2" stroke="#111" stroke-width="1.8" fill="#fff"/>
<circle cx="611.2" cy="284.3" r="2.2" stroke="#111" stroke-width="0" fill="#333"/>
<circle cx="611.2" cy="396.3" r="4.3" stroke="#111" stroke-width="1.5" fill="#fff"/>
<circle cx="842.6" cy="284.3" r="4.2" stroke="#111" stroke-width="1.8" fill="#fff"/>
<circle cx="842.6" cy="284.3" r="2.2" stroke="#111" stroke-width="0" fill="#333"/>
<circle cx="842.6" cy="396.3" r="4.3" stroke="#111" stroke-width="1.5" fill="#fff"/>
<circle cx="636.4" cy="289.2" r="5.5" stroke="#111" stroke-width="2.6" fill="#fff"/>
<circle cx="636.4" cy="289.2" r="2.5" stroke="#111" stroke-width="1.4" fill="none"/>
<circle cx="817.6" cy="289.2" r="5.5" stroke="#111" stroke-width="2.6" fill="#fff"/>
<circle cx="817.6" cy="289.2" r="2.5" stroke="#111" stroke-width="1.4" fill="none"/>
<path d="M637.3,412 V462.7 M817.3,412 V462.7" stroke="#111" stroke-width="1.8" fill="none" />
<path d="M656,412 V462.7 M674.7,418.5 V462.7 M780,418.5 V462.7 M798.7,412 V462.7" stroke="#111" stroke-width="1.2" fill="none" />
<path d="M637.3,462.7 H817.3" stroke="#111" stroke-width="2.4" fill="none" />
<circle cx="637.3" cy="462.7" r="2.4" stroke="#111" stroke-width="0" fill="#111"/>
<circle cx="817.3" cy="462.7" r="2.4" stroke="#111" stroke-width="0" fill="#111"/>
<path d="M639.5,462.7 V508 L662.7,539.5 H792 L815.5,508 V462.7" stroke="#111" stroke-width="2.0" fill="none" />
<path d="M639.5,506.7 H815.5 M645,514.7 H810" stroke="#111" stroke-width="1.6" fill="none" />
<ellipse cx="722" cy="204" rx="42" ry="36" stroke="#222" stroke-width="1.6" fill="none"/>
<ellipse cx="722" cy="204" rx="46" ry="40" stroke="#d0d0d0" stroke-width="3" fill="none" opacity="0.35"/>
<line x1="23.6" y1="461.8" x2="212" y2="461.8" stroke="#111" stroke-width="1.7" />
<line x1="69.5" y1="499" x2="131" y2="499" stroke="#111" stroke-width="1.7" />
<line x1="23.6" y1="550.5" x2="129" y2="550.5" stroke="#111" stroke-width="1.7" />
<line x1="36" y1="461.8" x2="36" y2="620.7" stroke="#111" stroke-width="1.7" />
<path d="M36,461.8 L39,477.8 L33,477.8 Z" fill="#111" stroke="none"/>
<path d="M36,550.5 L33,534.5 L39,534.5 Z" fill="#111" stroke="none"/>
<line x1="82" y1="499" x2="82" y2="613" stroke="#111" stroke-width="1.7" />
<path d="M82,499 L85,515 L79,515 Z" fill="#111" stroke="none"/>
<path d="M82,550.5 L79,534.5 L85,534.5 Z" fill="#111" stroke="none"/>
<text transform="matrix(0,-0.1673,0.2326,0,30.93,617.26)" font-size="100" fill="#111" stroke="#111" stroke-width="0.15" vector-effect="non-scaling-stroke">111</text>
<text transform="matrix(0,-0.2101,0.2275,0,76.70,607.98)" font-size="100" fill="#111" stroke="#111" stroke-width="0.15" vector-effect="non-scaling-stroke">64</text>
<line x1="179.6" y1="497" x2="179.6" y2="617" stroke="#111" stroke-width="1.7" />
<line x1="189" y1="462" x2="189" y2="577" stroke="#111" stroke-width="1.7" />
<line x1="212.9" y1="465" x2="212.9" y2="652.5" stroke="#111" stroke-width="1.7" />
<line x1="236.8" y1="492" x2="236.8" y2="577" stroke="#111" stroke-width="1.7" />
<line x1="245.6" y1="490" x2="245.6" y2="617" stroke="#111" stroke-width="1.7" />
<line x1="262.8" y1="505" x2="262.8" y2="652.5" stroke="#111" stroke-width="1.7" />
<line x1="189" y1="564.3" x2="298" y2="564.3" stroke="#111" stroke-width="1.7" />
<path d="M189,564.3 L205,561.3 L205,567.3 Z" fill="#111" stroke="none"/>
<path d="M236.8,564.3 L220.8,567.3 L220.8,561.3 Z" fill="#111" stroke="none"/>
<line x1="179.6" y1="605.9" x2="298.5" y2="605.9" stroke="#111" stroke-width="1.7" />
<path d="M179.6,605.9 L195.6,602.9 L195.6,608.9 Z" fill="#111" stroke="none"/>
<path d="M245.6,605.9 L229.6,608.9 L229.6,602.9 Z" fill="#111" stroke="none"/>
<line x1="212.9" y1="641" x2="310" y2="641" stroke="#111" stroke-width="1.7" />
<path d="M212.9,641 L228.9,638 L228.9,644 Z" fill="#111" stroke="none"/>
<path d="M262.8,641 L246.8,644 L246.8,638 Z" fill="#111" stroke="none"/>
<text transform="matrix(0.1794,0,0,0.2162,268.78,559.21)" font-size="100" fill="#111" stroke="#111" stroke-width="0.15" vector-effect="non-scaling-stroke">G2</text>
<text transform="matrix(0.2073,0,0,0.2162,271.25,600.21)" font-size="100" fill="#111" stroke="#111" stroke-width="0.15" vector-effect="non-scaling-stroke">83</text>
<text transform="matrix(0.2142,0,0,0.2162,282.00,635.71)" font-size="100" fill="#111" stroke="#111" stroke-width="0.15" vector-effect="non-scaling-stroke">63</text>
<text transform="matrix(0.1933,0,0,0.2246,21.83,374.70)" font-size="100" fill="#111" stroke="#111" stroke-width="0.15" vector-effect="non-scaling-stroke">M8</text>
<path d="M24,380.6 H51.3 L113.6,404.4" stroke="#111" stroke-width="1.7" fill="none" />
<line x1="597.5" y1="22" x2="597.5" y2="131" stroke="#111" stroke-width="1.3" />
<line x1="862" y1="22" x2="862" y2="131" stroke="#111" stroke-width="1.3" />
<line x1="597.5" y1="34.5" x2="862" y2="34.5" stroke="#111" stroke-width="1.7" />
<path d="M597.5,34.5 L613.5,31.5 L613.5,37.5 Z" fill="#111" stroke="none"/>
<path d="M862,34.5 L846,37.5 L846,31.5 Z" fill="#111" stroke="none"/>
<line x1="611.3" y1="61" x2="611.3" y2="152" stroke="#111" stroke-width="1.3" />
<line x1="842.7" y1="61" x2="842.7" y2="152" stroke="#111" stroke-width="1.3" />
<line x1="611.3" y1="73.6" x2="842.7" y2="73.6" stroke="#111" stroke-width="1.7" />
<path d="M611.3,73.6 L627.3,70.6 L627.3,76.6 Z" fill="#111" stroke="none"/>
<path d="M842.7,73.6 L826.7,76.6 L826.7,70.6 Z" fill="#111" stroke="none"/>
<text transform="matrix(0.1851,0,0,0.2331,714.33,29.69)" font-size="100" fill="#111" stroke="#111" stroke-width="0.15" vector-effect="non-scaling-stroke">331</text>
<text transform="matrix(0.2028,0,0,0.2401,710.16,69.08)" font-size="100" fill="#111" stroke="#111" stroke-width="0.15" vector-effect="non-scaling-stroke">290</text>
<line x1="751.6" y1="120.5" x2="979" y2="120.5" stroke="#111" stroke-width="1.7" />
<line x1="847" y1="283.8" x2="979" y2="283.8" stroke="#111" stroke-width="1.7" />
<line x1="847" y1="396.3" x2="979" y2="396.3" stroke="#111" stroke-width="1.7" />
<line x1="966.9" y1="120.5" x2="966.9" y2="396.3" stroke="#111" stroke-width="1.7" />
<path d="M966.9,120.5 L969.9,136.5 L963.9,136.5 Z" fill="#111" stroke="none"/>
<path d="M966.9,283.8 L963.9,267.8 L969.9,267.8 Z" fill="#111" stroke="none"/>
<path d="M966.9,283.8 L969.9,299.8 L963.9,299.8 Z" fill="#111" stroke="none"/>
<path d="M966.9,396.3 L963.9,380.3 L969.9,380.3 Z" fill="#111" stroke="none"/>
<text transform="matrix(0,-0.2054,0.2148,0,959.91,219.85)" font-size="100" fill="#111" stroke="#111" stroke-width="0.15" vector-effect="non-scaling-stroke">205</text>
<text transform="matrix(0,-0.1906,0.2148,0,959.91,355.15)" font-size="100" fill="#111" stroke="#111" stroke-width="0.15" vector-effect="non-scaling-stroke">140</text>
<line x1="500" y1="268.5" x2="654" y2="268.5" stroke="#111" stroke-width="1.7" />
<line x1="536.4" y1="284.5" x2="610" y2="284.5" stroke="#111" stroke-width="1.7" />
<line x1="500" y1="412" x2="599" y2="412" stroke="#111" stroke-width="1.7" />
<line x1="512.5" y1="268.5" x2="512.5" y2="412" stroke="#111" stroke-width="1.7" />
<path d="M512.5,268.5 L515.5,284.5 L509.5,284.5 Z" fill="#111" stroke="none"/>
<path d="M512.5,412 L509.5,396 L515.5,396 Z" fill="#111" stroke="none"/>
<line x1="548.9" y1="235.8" x2="548.9" y2="268.5" stroke="#111" stroke-width="1.7" />
<path d="M548.9,268.5 L545.9,252.5 L551.9,252.5 Z" fill="#111" stroke="none"/>
<line x1="548.9" y1="284.5" x2="548.9" y2="345.6" stroke="#111" stroke-width="1.7" />
<path d="M548.9,284.5 L551.9,300.5 L545.9,300.5 Z" fill="#111" stroke="none"/>
<text transform="matrix(0,-0.1868,0.2317,0,507.19,355.92)" font-size="100" fill="#111" stroke="#111" stroke-width="0.15" vector-effect="non-scaling-stroke">180</text>
<text transform="matrix(0,-0.1908,0.2204,0,543.20,341.38)" font-size="100" fill="#111" stroke="#111" stroke-width="0.15" vector-effect="non-scaling-stroke">20</text>
<text transform="matrix(0.1665,0,0,0.2218,540.94,475.50)" font-size="100" fill="#111" stroke="#111" stroke-width="0.15" vector-effect="non-scaling-stroke">10</text>
<ellipse cx="532.9" cy="467.8" rx="5.2" ry="5.1" fill="none" stroke="#111" stroke-width="1.7"/>
<line x1="535.9" y1="460.2" x2="530.5" y2="475.5" stroke="#111" stroke-width="1.7" />
<path d="M527,481.7 H563.8 L629,363.7" stroke="#111" stroke-width="1.7" fill="none" />
<path d="M615.5,388.8 L619.4,376.1 L624.2,378.7 Z" fill="#111" stroke="none"/>
<path d="M606.5,404.5 L602.6,417.2 L597.8,414.6 Z" fill="#111" stroke="none"/>
<g style="mix-blend-mode:multiply">
<g fill="#cbcbcb" stroke="none">
<rect x="311.6" y="238.7" width="12.4" height="78"/>
<rect x="311.6" y="238.7" width="86.4" height="10.6"/>
<rect x="385.7" y="238.7" width="12.3" height="99"/>
<rect x="343.4" y="255" width="10.6" height="56"/>
</g>
<g stroke="#cbcbcb" stroke-width="11" fill="none">
<path d="M349,311 Q342,333 326,347"/>
<path d="M362,316 Q380,336 402,349"/>
</g>
<g fill="#cbcbcb" stroke="none">
<rect x="445.4" y="237.9" width="96.4" height="10"/>
<rect x="434.8" y="255" width="117.5" height="10.6"/>
<rect x="434.8" y="255" width="13.5" height="23"/>
<rect x="539.8" y="255" width="12.5" height="23"/>
<rect x="486.8" y="248" width="13.5" height="46"/>
<rect x="453" y="268.5" width="28" height="8.7"/>
<rect x="453" y="284.5" width="28" height="8.2"/>
<rect x="506" y="268.5" width="28" height="8.7"/>
<rect x="506" y="284.5" width="28" height="8.2"/>
<rect x="448.1" y="297.6" width="91" height="9.8"/>
<rect x="448.1" y="315.8" width="91" height="11.2"/>
<rect x="448.1" y="336.1" width="91" height="10.5"/>
<rect x="448.1" y="297.6" width="14" height="56.7"/>
<rect x="525.1" y="297.6" width="14" height="56.7"/>
<rect x="486.6" y="297.6" width="14" height="49"/>
<rect x="581.6" y="250.2" width="111.7" height="9.6"/>
<rect x="627.8" y="233.8" width="10.6" height="26"/>
<rect x="601.8" y="271.4" width="11.6" height="32.6"/>
<rect x="662.5" y="271.4" width="11.5" height="32.6"/>
<rect x="601.8" y="271.4" width="72.2" height="8"/>
<rect x="601.8" y="294.5" width="72.2" height="9.5"/>
</g>
<g stroke="#cbcbcb" stroke-width="11.5" fill="none">
<path d="M623,304 V314 Q620,336 583,346"/>
<path d="M644.7,304 V336 Q644.7,346 656,346 H676 Q684,346 684,328"/>
</g>
<text transform="matrix(0.53,0,0,1.001,304.2,453.8)" font-size="124" fill="#cbcbcb" stroke="#cbcbcb" stroke-width="3" style="font-family:'Liberation Sans',sans-serif">B</text>
<text transform="matrix(0.617,0,0,0.812,361.91,453.69)" font-size="124" fill="#cbcbcb" stroke="#cbcbcb" stroke-width="3" style="font-family:'Liberation Sans',sans-serif">a</text>
<text transform="matrix(0.669,0,0,0.838,534.36,453.66)" font-size="124" fill="#cbcbcb" stroke="#cbcbcb" stroke-width="3" style="font-family:'Liberation Sans',sans-serif">e</text>
<text transform="matrix(0.732,0,0,0.793,583.9,450.87)" font-size="124" fill="#cbcbcb" stroke="#cbcbcb" stroke-width="3" style="font-family:'Liberation Sans',sans-serif">y</text>
<text transform="matrix(0.637,0,0,0.944,647.0,454.1)" font-size="124" fill="#cbcbcb" stroke="#cbcbcb" stroke-width="3" style="font-family:'Liberation Sans',sans-serif">k</text>
<rect x="437.8" y="397.8" width="10" height="57.8" fill="#cbcbcb"/><rect x="437.8" y="369" width="10" height="14.5" fill="#cbcbcb"/><rect x="495.6" y="367.6" width="9.8" height="88" fill="#cbcbcb"/>
</g></svg></body></html>
